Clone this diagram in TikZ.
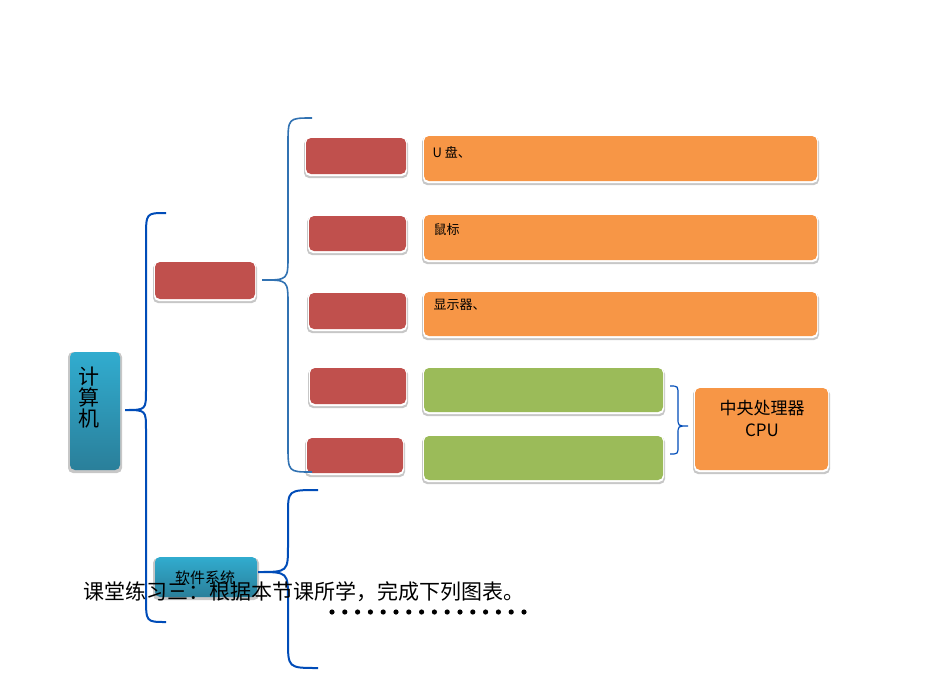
\documentclass[tikz,border=0pt]{standalone}
\usepackage{fontspec}
\setmainfont{Liberation Sans}
\newfontfamily\cjk{Noto Sans CJK SC}
\begin{document}
\begin{tikzpicture}[x=1pt,y=-1pt,
  bx/.style={rounded corners=4pt,inner sep=0pt},
  brc/.style={draw=blue!60!black!70!cyan,line width=2pt},
  lbl/.style={font=\cjk\fontsize{13}{15}\selectfont,anchor=north west}]
\useasboundingbox (0,0) rectangle (950,672);
\definecolor{rd}{HTML}{C0504D}\definecolor{og}{HTML}{F79646}\definecolor{gr}{HTML}{9BBB59}
\definecolor{tl}{HTML}{31ACCF}\definecolor{tld}{HTML}{2A7F9A}\definecolor{bl}{HTML}{1E6FBF}
\newcommand{\shbox}[6]{% name x1 y1 x2 y2 color
  \fill[rounded corners=5pt,black!22] (#2-2,#3+1) rectangle (#4+2,#5+4);
  \fill[rounded corners=5pt,white] (#2-1,#3-1) rectangle (#4+1,#5+2);
  \fill[rounded corners=5pt,#6] (#2,#3) rectangle (#4,#5);
  \coordinate (#1) at (#2,#3);}
% boxes
\fill[rounded corners=5pt,black!22] (68,352) rectangle (122,473);
\shade[rounded corners=5pt,top color=tl,bottom color=tld] (70,352) rectangle (120,470);
\node[font=\cjk\fontsize{21}{24}\selectfont,align=center] (pc) at (89,398) {计\\[-3pt]算\\[-3pt]机};
\shbox{hw}{155}{262}{255}{299}{rd}
\shbox{r1}{306}{138}{406}{174}{rd}
\shbox{r2}{309}{216}{406}{251}{rd}
\shbox{r3}{309}{293}{406}{329}{rd}
\shbox{r4}{310}{368}{406}{404}{rd}
\shbox{r5}{307}{438}{403}{473}{rd}
\shbox{o1}{424}{136}{817}{181}{og}
\shbox{o2}{424}{215}{817}{260}{og}
\shbox{o3}{424}{292}{817}{336}{og}
\shbox{g1}{424}{368}{663}{412}{gr}
\shbox{g2}{424}{436}{663}{480}{gr}
\shbox{cpu}{695}{388}{828}{470}{og}
\node[lbl] (t1) at (429,143) {U 盘、};
\node[lbl] (t2) at (430,220) {鼠标};
\node[lbl] (t3) at (430,296) {显示器、};
\node[font=\cjk\fontsize{17}{22}\selectfont,align=center] (tc) at (762,418) {中央处理器\\CPU};
% software box
\fill[rounded corners=5pt,black!22] (153,558) rectangle (259,600);
\shade[rounded corners=5pt,top color=tl,bottom color=tld] (155,557) rectangle (257,597);
\node[font=\cjk\fontsize{15}{18}\selectfont] (sw) at (205,578) {软件系统};
% braces
\draw[brc] (166,213) .. controls (146,213) .. (146,238) -- (146,390) .. controls (146,410) .. (125,410) .. controls (146,410) .. (146,430) -- (146,597) .. controls (146,622) .. (166,622);
\draw[brc,line width=1.6pt,draw=bl!80!gray] (312,118) .. controls (288,118) .. (288,145) -- (288,255) .. controls (288,280) .. (262,280) .. controls (288,280) .. (288,305) -- (288,445) .. controls (288,472) .. (312,472);
\draw[brc] (318,490) .. controls (288,490) .. (288,515) -- (288,545) .. controls (288,572) .. (258,572) .. controls (288,572) .. (288,600) -- (288,640) .. controls (288,668) .. (318,668);
\draw[brc,line width=1.2pt] (670,386) .. controls (678,386) .. (678,395) -- (678,418) .. controls (678,426) .. (688,426) .. controls (678,426) .. (678,434) -- (678,446) .. controls (678,454) .. (670,454);
% title
\node[font=\cjk\fontsize{21}{24}\selectfont,anchor=west] (title) at (80,592) {课堂练习三：根据本节课所学，完成下列图表。};
\foreach \i in {0,...,15} \fill (332+12.8*\i,612) circle (2.6);
\end{tikzpicture}
\end{document}
